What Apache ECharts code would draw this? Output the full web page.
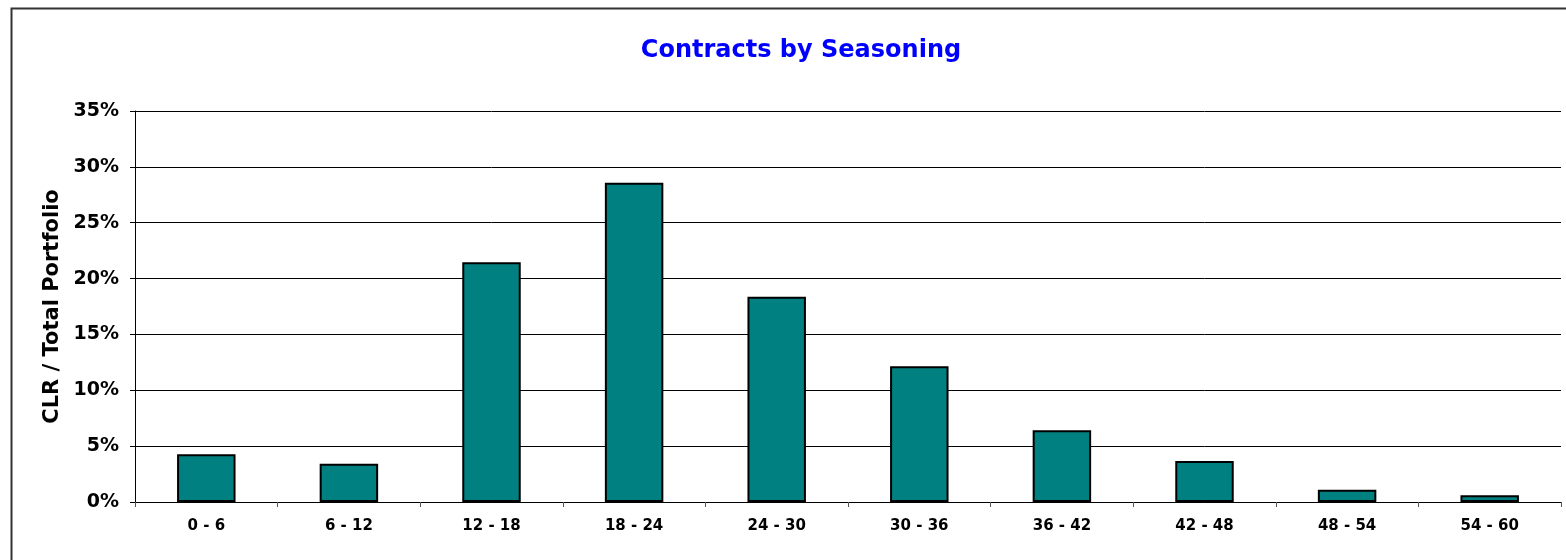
<!DOCTYPE html>
<html>
<head>
<meta charset="utf-8">
<script src="https://cdn.jsdelivr.net/npm/echarts@6/dist/echarts.min.js"></script>
<style>html,body{margin:0;padding:0;background:#fff}#c{width:1566px;height:560px}</style>
</head>
<body>
<div id="c"></div>
<script>
const categories = ['0 - 6','6 - 12','12 - 18','18 - 24','24 - 30','30 - 36','36 - 42','42 - 48','48 - 54','54 - 60'];
const values = [4.27, 3.43, 21.46, 28.58, 18.38, 12.15, 6.42, 3.67, 1.1, 0.6];
const yTicks = [0, 5, 10, 15, 20, 25, 30, 35];

const FONT = 'DejaVu Sans, Verdana, sans-serif';
const chart = echarts.init(document.getElementById('c'), null, {renderer: 'canvas'});
chart.setOption({
  animation: false,
  backgroundColor: '#ffffff',
  title: {
    text: 'Contracts by Seasoning',
    left: 796, top: 34, textAlign: 'center',
    textStyle: {color: '#0000FF', fontFamily: FONT, fontWeight: 'bold', fontSize: 24}
  },
  graphic: [{
    type: 'rect', left: 9, top: 6, silent: true,
    shape: {x: 0, y: 0, width: 1700, height: 700},
    style: {fill: 'none', stroke: '#333', lineWidth: 2}
  }],
  grid: {left: 135, right: 5, top: 111, bottom: 58, containLabel: false},
  xAxis: {
    type: 'category', data: categories,
    axisLine: {lineStyle: {color: '#000', width: 1}},
    axisTick: {show: true, length: 5, lineStyle: {color: '#555'}},
    axisLabel: {color: '#000', fontFamily: FONT, fontWeight: 'bold', fontSize: 15, margin: 17}
  },
  yAxis: {
    type: 'value', min: yTicks[0], max: yTicks[yTicks.length - 1], interval: 5,
    name: 'CLR / Total Portfolio', nameLocation: 'middle', nameGap: 64, nameRotate: 90,
    nameTextStyle: {color: '#000', fontFamily: FONT, fontWeight: 'bold', fontSize: 21},
    axisLine: {show: true, lineStyle: {color: '#000', width: 1}},
    axisTick: {show: true, length: 5, lineStyle: {color: '#000'}},
    axisLabel: {color: '#000', fontFamily: FONT, fontWeight: 'bold', fontSize: 19, margin: 16, formatter: v => v + '%'},
    splitLine: {show: true, lineStyle: {color: '#000', width: 1}}
  },
  series: [{
    type: 'bar', data: values, barWidth: '41%',
    itemStyle: {color: '#008080', borderColor: '#000', borderWidth: 2}
  }]
});
</script>
</body>
</html>
